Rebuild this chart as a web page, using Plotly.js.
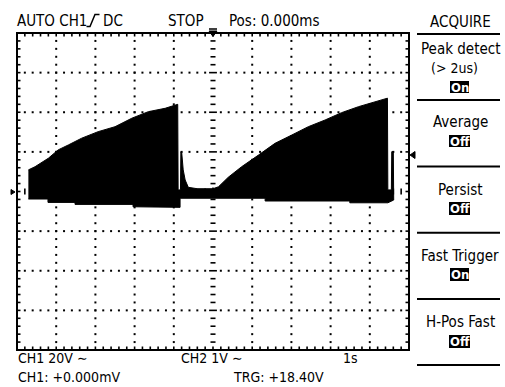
<!DOCTYPE html>
<html>
<head>
<meta charset="utf-8">
<script src="https://cdn.plot.ly/plotly-3.0.1.min.js"></script>
<style>html,body{margin:0;padding:0;background:#fff;}#plot{width:505px;height:387px;}</style>
</head>
<body>
<div id="plot"></div>
<script>
// ---- waveform data: time in s (1 s/div), CH1 in volts (20 V/div) ----
const upperT = [-4.71,-4.54,-4.20,-3.95,-3.69,-3.35,-2.93,-2.50,-2.07,-1.65,-1.22,-0.90,-0.89,-0.83,-0.82,-0.80,-0.76,-0.71,-0.63,-0.40,0.00,0.14,0.39,0.73,1.16,1.58,2.01,2.43,2.86,3.28,3.71,4.13,4.45,4.46,4.55,4.56,4.60,4.61];
const upperV = [10.9,12.5,16.8,21.0,23.5,26.9,30.2,32.7,37.0,40.3,42.0,44.0,0.8,0.8,20.1,20.1,10.9,5.8,2.1,1.4,1.4,2.4,7.2,12.5,18.4,24.3,28.5,32.7,36.1,39.8,42.8,45.3,47.1,0.8,0.8,20.1,20.1,-4.3];
const lowerT = [4.61,4.46,3.49,3.49,1.33,1.33,-0.84,-0.84,-2.04,-2.04,-3.52,-3.52,-4.21,-4.21,-4.71];
const lowerV = [-4.3,-5.7,-5.7,-4.8,-4.8,-3.4,-3.4,-8.0,-7.7,-6.5,-6.5,-5.5,-5.5,-3.8,-3.8];

// ---- screen text ----
const topLeftText = ["AUTO CH1", "DC"];
const stopText = "STOP";
const posText = "Pos: 0.000ms";
const menuTitle = "ACQUIRE";
const menuItems = ["Peak detect", "Average", "Persist", "Fast Trigger", "H-Pos Fast"];
const menuSub = "(> 2us)";
const menuStates = ["On", "Off", "Off", "On", "Off"];
const statusRow1 = ["CH1 20V ∼", "CH2 1V ∼", "1s"];
const statusRow2 = ["CH1: +0.000mV", "TRG: +18.40V"];

// ---- geometry (pixels) ----
const L = 17, R = 409, T = 33, B = 350;
const fx = x => (x - L) / (R - L);
const fy = y => (B - y) / (B - T);
const FONT = '"DejaVu Sans Condensed", "DejaVu Sans", sans-serif';

// grid dots
const gx = [], gy = [];
[-60,-40,-20,20,40,60].forEach(v => { for (let k = 1; k < 50; k++) { const t = -5 + 0.2*k; if (Math.abs(t) > 1e-6) { gx.push(t); gy.push(v); } } });
[-4,-3,-2,-1,1,2,3,4].forEach(t => { for (let m = 1; m < 40; m++) { gx.push(t); gy.push(-80 + 4*m); } });

// centre cross dashes
const cx = [], cy = [];
for (let m = 1; m < 40; m++) { const v = -80 + 4*m; const h = (m % 5 === 0) ? 0.1 : 0.064; cx.push(-h, h, null); cy.push(v, v, null); }
for (let k = 1; k < 50; k++) { const t = -5 + 0.2*k; const h = (k % 5 === 0) ? 2.0 : 1.5; cx.push(t, t, null); cy.push(-h, h, null); }

// frame ticks
const dt = 3.5/39.2, dV = 3.5/39.6*20;
const fxs = [], fys = [];
for (let m = 1; m < 40; m++) { const v = -80 + 4*m; fxs.push(-5, -5+dt, null, 5, 5-dt, null); fys.push(v, v, null, v, v, null); }
for (let k = 1; k < 50; k++) { const t = -5 + 0.2*k; fxs.push(t, t, null, t, t, null); fys.push(80, 80-dV, null, -80, -80+dV, null); }

const polyT = upperT.concat(lowerT);
const polyV = upperV.concat(lowerV);

const traces = [
  {x: gx, y: gy, mode: 'markers', type: 'scatter', marker: {symbol: 'square', size: 2, color: '#000', line: {width: 0}}, hoverinfo: 'skip'},
  {x: cx, y: cy, mode: 'lines', type: 'scatter', line: {color: '#000', width: 1.6}, hoverinfo: 'skip'},
  {x: polyT, y: polyV, mode: 'lines', type: 'scatter', fill: 'toself', fillcolor: '#000', line: {color: '#000', width: 1}, hoverinfo: 'skip'},
  {x: fxs, y: fys, mode: 'lines', type: 'scatter', line: {color: '#000', width: 1.6}, hoverinfo: 'skip'}
];

const ann = [];
function txt(text, x, y, size, xanchor, extra) {
  ann.push(Object.assign({text: text, x: fx(x), y: fy(y), xref: 'paper', yref: 'paper', showarrow: false,
    xanchor: xanchor || 'left', yanchor: 'middle', font: {family: FONT, size: size, color: '#000'}}, extra || {}));
}
txt(topLeftText[0], 15, 21, 15);
txt(topLeftText[1], 101, 21, 15);
txt(stopText, 166, 21, 15);
txt(posText, 227, 21, 15);
txt(menuTitle, 460, 22, 15, 'center');

const shapes = [];
// screen frame
shapes.push({type: 'rect', xref: 'paper', yref: 'paper', x0: 0, x1: 1, y0: 0, y1: 1, line: {color: '#000', width: 2}});
// trigger slope symbol
shapes.push({type: 'path', xref: 'paper', yref: 'paper', path: `M${fx(86.5)},${fy(26.5)} L${fx(90)},${fy(26.5)} L${fx(95)},${fy(14.5)} L${fx(99.5)},${fy(14.5)}`, line: {color: '#000', width: 1.5}});
// trigger position marker
shapes.push({type: 'path', xref: 'paper', yref: 'paper', path: `M${fx(209)},${fy(31)} L${fx(217)},${fy(31)} L${fx(213)},${fy(36.5)} Z`, fillcolor: '#000', line: {color: '#000', width: 1}});
shapes.push({type: 'line', xref: 'paper', yref: 'paper', x0: fx(209), x1: fx(217), y0: fy(29), y1: fy(29), line: {color: '#000', width: 1.5}});
// ground marker
shapes.push({type: 'path', xref: 'paper', yref: 'paper', path: `M${fx(11)},${fy(189.5)} L${fx(11)},${fy(194.5)} L${fx(15)},${fy(192)} Z`, fillcolor: '#000', line: {color: '#000', width: 1}});
// trigger level marker
shapes.push({type: 'path', xref: 'paper', yref: 'paper', path: `M${fx(410)},${fy(155)} L${fx(415)},${fy(151.5)} L${fx(415)},${fy(158.5)} Z`, fillcolor: '#000', line: {color: '#000', width: 1}});

// menu separators
const sepY = [34, 100, 166.5, 232.7, 299, 365];
sepY.forEach(y => shapes.push({type: 'line', xref: 'paper', yref: 'paper', x0: fx(417), x1: fx(500), y0: fy(y), y1: fy(y), line: {color: '#000', width: 2}}));

// menu items with inverted state boxes
const itemY = [49, 122, 190, 256, 322];
const boxY = [[81,93],[135,147],[202,215],[268,281],[335,348]];
menuItems.forEach((s, i) => {
  txt(s, 460, itemY[i], 15, 'center');
  const w = menuStates[i] === 'On' ? [450, 469] : [449, 470];
  shapes.push({type: 'rect', xref: 'paper', yref: 'paper', x0: fx(w[0]), x1: fx(w[1]), y0: fy(boxY[i][1]), y1: fy(boxY[i][0]), fillcolor: '#000', line: {width: 0}});
  txt(menuStates[i], 459.5, (boxY[i][0] + boxY[i][1]) / 2, 13, 'center', {font: {family: FONT, size: 13, color: '#fff', weight: 'bold'}});
});
txt(menuSub, 454, 68, 14, 'center');

// status rows
txt(statusRow1[0], 16, 358, 14);
txt(statusRow1[1], 179, 358, 14);
txt(statusRow1[2], 341, 358, 14);
txt(statusRow2[0], 16, 377.5, 14);
txt(statusRow2[1], 231, 377.5, 14);

const layout = {
  width: 505, height: 387,
  margin: {l: L, r: 505 - R, t: T, b: 387 - B, pad: 0},
  paper_bgcolor: '#fff', plot_bgcolor: '#fff',
  showlegend: false,
  xaxis: {range: [-5, 5], showgrid: false, zeroline: false, showticklabels: false, ticks: '', showline: false, fixedrange: true},
  yaxis: {range: [-80, 80], showgrid: false, zeroline: false, showticklabels: false, ticks: '', showline: false, fixedrange: true},
  shapes: shapes,
  annotations: ann
};
Plotly.newPlot('plot', traces, layout, {displayModeBar: false, staticPlot: true});
</script>
</body>
</html>
